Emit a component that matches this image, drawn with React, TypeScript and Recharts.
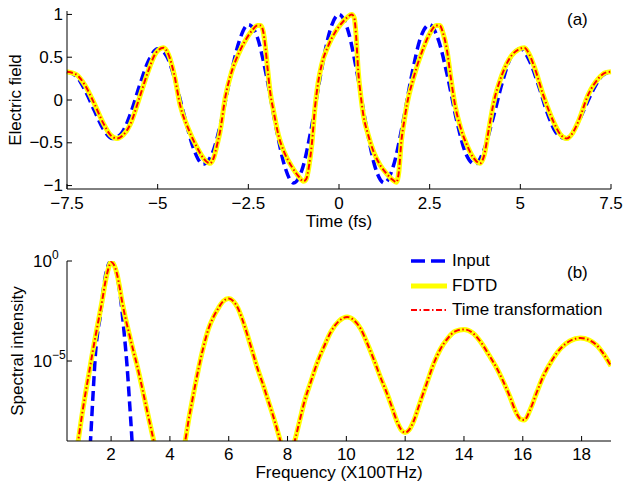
import { LineChart, Line, XAxis, YAxis, Legend, Label } from "recharts";

const FONT = '"Liberation Sans", Arial, Helvetica, sans-serif';

// (a) electric field vs time
const inputTime = [
  -7.5, -7.25, -7, -6.75, -6.5, -6.25, -6, -5.75, -5.5, -5.25, -5, -4.75, -4.5, -4.25, -4, -3.75,
  -3.5, -3.25, -3, -2.75, -2.5, -2.25, -2, -1.75, -1.5, -1.25, -1, -0.75, -0.5, -0.25, 0, 0.25,
  0.5, 0.75, 1, 1.25, 1.5, 1.75, 2, 2.25, 2.5, 2.75, 3, 3.25, 3.5, 3.75, 4, 4.25, 4.5, 4.75, 5,
  5.25, 5.5, 5.75, 6, 6.25, 6.5, 6.75, 7, 7.25, 7.5,
];
const inputField = [
  0.33, 0.28, 0.11, -0.12, -0.34, -0.45, -0.39, -0.16, 0.17, 0.46, 0.6, 0.51, 0.2, -0.21, -0.58, -0.75,
  -0.63, -0.25, 0.26, 0.69, 0.88, 0.73, 0.28, -0.29, -0.77, -0.97, -0.79, -0.3, 0.31, 0.81, 1.0, 0.81,
  0.31, -0.3, -0.79, -0.97, -0.77, -0.29, 0.28, 0.73, 0.88, 0.69, 0.26, -0.25, -0.63, -0.75, -0.58,
  -0.21, 0.2, 0.51, 0.6, 0.46, 0.17, -0.16, -0.39, -0.45, -0.34, -0.12, 0.11, 0.28, 0.33,
];
const outputTime = [
  -7.5, -7.25, -7, -6.75, -6.5, -6.3, -6.12, -5.95, -5.75, -5.5, -5.25, -5.05, -4.84, -4.7, -4.55,
  -4.38, -4.15, -3.92, -3.72, -3.56, -3.45, -3.36, -3.28, -3.14, -2.96, -2.78, -2.59, -2.4, -2.25,
  -2.16, -2.09, -2.03, -1.97, -1.9, -1.8, -1.67, -1.5, -1.3, -1.12, -0.98, -0.9, -0.83, -0.75,
  -0.66, -0.58, -0.48, -0.3, -0.11, 0.08, 0.24, 0.35, 0.42, 0.47, 0.53, 0.6, 0.67, 0.8, 0.95,
  1.12, 1.31, 1.47, 1.58, 1.65, 1.72, 1.8, 1.87, 2.05, 2.32, 2.52, 2.68, 2.78, 2.87, 2.97, 3.08,
  3.2, 3.35, 3.52, 3.7, 3.89, 4.0, 4.12, 4.25, 4.49, 4.76, 4.95, 5.11, 5.25, 5.4, 5.63, 5.91,
  6.1, 6.28, 6.45, 6.6, 6.87, 7.15, 7.35, 7.5,
];
const outputField = [
  0.33, 0.3, 0.17, -0.04, -0.27, -0.41, -0.45, -0.41, -0.28, 0.03, 0.35, 0.55, 0.61, 0.53, 0.31,
  -0.06, -0.34, -0.55, -0.69, -0.74, -0.67, -0.52, -0.37, 0.02, 0.33, 0.53, 0.69, 0.81, 0.87,
  0.87, 0.8, 0.62, 0.37, 0.1, -0.14, -0.41, -0.62, -0.78, -0.89, -0.95, -0.92, -0.78, -0.52,
  -0.08, 0.19, 0.41, 0.63, 0.79, 0.9, 0.97, 1.0, 0.96, 0.76, 0.34, 0.05, -0.17, -0.4, -0.6,
  -0.75, -0.86, -0.93, -0.96, -0.84, -0.48, -0.24, -0.06, 0.25, 0.6, 0.79, 0.87, 0.87, 0.78, 0.6,
  0.27, -0.06, -0.32, -0.52, -0.67, -0.74, -0.65, -0.37, -0.06, 0.29, 0.52, 0.59, 0.61, 0.53,
  0.37, 0.06, -0.25, -0.4, -0.45, -0.38, -0.25, 0.06, 0.25, 0.32, 0.33,
];
const timeTicks = [-7.5, -5, -2.5, 0, 2.5, 5, 7.5];
const fieldTicks = [-1, -0.5, 0, 0.5, 1];

// (b) spectra, read as log10 of intensity
const inputFreq = [1.2, 1.3, 1.4, 1.47, 1.55, 1.64, 1.72, 1.8, 1.9, 2.0, 2.1, 2.2, 2.3, 2.37, 2.45, 2.54, 2.62, 2.71, 2.8];
const inputLogIntensity = [-11.5, -8.97, -6.3, -4.6, -3.5, -2.7, -1.6, -0.8, -0.2, 0, -0.18, -0.72, -1.62, -2.5, -3.7, -5.2, -6.9, -8.97, -11.5];
const outputFreq = [
  0.5, 0.88, 1.0, 1.13, 1.25, 1.36, 1.47, 1.58, 1.7, 1.81, 1.9, 2.0, 2.1, 2.2, 2.3, 2.37, 2.48,
  2.6, 2.74, 2.88, 3.02, 3.16, 3.3, 3.45, 3.6, 4.0, 4.35, 4.52, 4.63, 4.75, 4.86, 4.97, 5.14,
  5.31, 5.48, 5.65, 5.82, 6.0, 6.15, 6.31, 6.47, 6.64, 6.81, 6.98, 7.15, 7.32, 7.5, 7.75, 7.9,
  8.0, 8.1, 8.25, 8.41, 8.57, 8.8, 9.02, 9.25, 9.47, 9.75, 10.03, 10.25, 10.49, 10.72, 10.94,
  11.17, 11.39, 11.56, 11.73, 11.87, 12.0, 12.13, 12.29, 12.5, 12.75, 12.98, 13.2, 13.43, 13.7,
  14.0, 14.3, 14.57, 14.85, 15.13, 15.36, 15.58, 15.75, 15.92, 16.05, 16.26, 16.48, 16.71, 17.0,
  17.28, 17.6, 17.96, 18.25, 18.52, 18.75, 19.0,
];
const outputLogIntensity = [
  -13, -9.0, -7.8, -6.6, -5.6, -4.65, -3.75, -2.9, -1.95, -1.0, -0.42, -0.05, -0.2, -0.65, -1.4,
  -2.0, -2.8, -3.55, -4.4, -5.2, -6.1, -7.05, -8.0, -9.0, -10.1, -12, -10.2, -9.0, -8.0, -7.05,
  -6.2, -5.4, -4.3, -3.4, -2.8, -2.35, -2.0, -1.88, -2.0, -2.35, -2.95, -3.72, -4.55, -5.38, -6.1,
  -6.88, -7.7, -8.97, -9.8, -10.5, -9.8, -8.97, -8.0, -7.05, -6.0, -5.05, -4.25, -3.55, -3.0,
  -2.8, -2.95, -3.4, -4.15, -4.95, -5.85, -6.65, -7.35, -8.05, -8.45, -8.58, -8.45, -8.0, -7.1,
  -6.05, -5.1, -4.4, -3.9, -3.52, -3.42, -3.6, -4.05, -4.7, -5.4, -6.1, -6.85, -7.5, -7.9, -7.95,
  -7.4, -6.55, -5.72, -4.95, -4.38, -4.0, -3.85, -3.95, -4.22, -4.65, -5.25,
];
const freqTicks = [2, 4, 6, 8, 10, 12, 14, 16, 18];
const intensityTicks = [1e-5, 1];

const inputFieldRows = inputTime.map((t, i) => ({ t, v: inputField[i] }));
const outputFieldRows = outputTime.map((t, i) => ({ t, v: outputField[i] }));
const inputSpectrumRows = inputFreq.map((f, i) => ({ f, v: Math.pow(10, inputLogIntensity[i]) }));
const outputSpectrumRows = outputFreq.map((f, i) => ({ f, v: Math.pow(10, outputLogIntensity[i]) }));

const series = [
  { name: "Input", stroke: "#0000ff", width: 3.5, dash: "10 5", legendDash: "14 6" },
  { name: "FDTD", stroke: "#ffff00", width: 5, dash: undefined, legendDash: undefined },
  { name: "Time transformation", stroke: "#ff0000", width: 2, dash: "6 2.5 1.5 2.5", legendDash: "6 2.5 1.5 2.5" },
];

const txt = { fontSize: 17, fontFamily: FONT, fill: "#000" };
const fmtNum = (v: number) => (v < 0 ? "\u2212" + Math.abs(v) : String(v));

const makeXTick = (dy: number) => ({ x, y, payload }: any) => (
  <g>
    <line x1={x} y1={y} x2={x} y2={y - 5} stroke="#000" />
    <text x={x} y={y + dy} textAnchor="middle" dominantBaseline="central" {...txt}>
      {fmtNum(payload.value)}
    </text>
  </g>
);

const FieldTick = ({ x, y, payload }: any) => (
  <g>
    <line x1={x} y1={y} x2={x + 5} y2={y} stroke="#000" />
    <text x={x - 4} y={y} textAnchor="end" dominantBaseline="central" {...txt}>
      {fmtNum(payload.value)}
    </text>
  </g>
);

const PowerTick = ({ x, y, payload }: any) => {
  const exp = Math.round(Math.log10(payload.value));
  return (
    <g>
      <line x1={x} y1={y} x2={x + 5} y2={y} stroke="#000" />
      <text x={x - 34} y={y + 6} {...txt}>
        10
        <tspan dy={-8} fontSize={12}>
          {fmtNum(exp)}
        </tspan>
      </text>
    </g>
  );
};

const xTitle = (value: string, dy: number) => ({ viewBox }: any) => (
  <text x={viewBox.x + viewBox.width / 2} y={viewBox.y + dy} textAnchor="middle" dominantBaseline="central" {...txt}>
    {value}
  </text>
);

const yTitle = (value: string, dx: number) => ({ viewBox }: any) => {
  const cx = viewBox.x + dx;
  const cy = viewBox.y + viewBox.height / 2;
  return (
    <text x={cx} y={cy} transform={`rotate(-90 ${cx} ${cy})`} textAnchor="middle" dominantBaseline="central" {...txt}>
      {value}
    </text>
  );
};

const renderLegend = () => (
  <div style={{ fontFamily: FONT, fontSize: 17, color: "#000" }}>
    {series.map((s) => (
      <div key={s.name} style={{ display: "flex", alignItems: "center", height: 24.5 }}>
        <svg width={36} height={10} style={{ marginRight: 5 }}>
          <line x1={0} y1={5} x2={36} y2={5} stroke={s.stroke} strokeWidth={s.width} strokeDasharray={s.legendDash} />
        </svg>
        <span>{s.name}</span>
      </div>
    ))}
  </div>
);

const panelTag = { position: "absolute" as const, left: 567, fontFamily: FONT, fontSize: 17, lineHeight: "17px" };

export default function App() {
  return (
    <div style={{ position: "absolute", left: 0, top: 0, width: 623, height: 483, background: "#fff" }}>
      <div style={{ position: "absolute", left: 0, top: 0 }}>
        <LineChart width={623} height={240} margin={{ top: 11, right: 12, bottom: 11, left: 7 }}>
          <XAxis
            dataKey="t"
            type="number"
            domain={[-7.5, 7.5]}
            ticks={timeTicks}
            interval={0}
            height={40}
            tickSize={0}
            tickMargin={0}
            tickLine={false}
            stroke="#000"
            tick={makeXTick(14)}
          >
            <Label content={xTitle("Time (fs)", 32)} />
          </XAxis>
          <YAxis
            type="number"
            domain={[-1.04, 1.04]}
            ticks={fieldTicks}
            interval={0}
            width={60}
            tickSize={0}
            tickMargin={0}
            tickLine={false}
            stroke="#000"
            tick={FieldTick}
          >
            <Label content={yTitle("Electric field", 8)} />
          </YAxis>
          <Line data={inputFieldRows} dataKey="v" name={series[0].name} type="monotone" stroke={series[0].stroke} strokeWidth={series[0].width} strokeDasharray={series[0].dash} dot={false} activeDot={false} isAnimationActive={false} />
          <Line data={outputFieldRows} dataKey="v" name={series[1].name} type="monotone" stroke={series[1].stroke} strokeWidth={series[1].width} dot={false} activeDot={false} isAnimationActive={false} />
          <Line data={outputFieldRows} dataKey="v" name={series[2].name} type="monotone" stroke={series[2].stroke} strokeWidth={series[2].width} strokeDasharray={series[2].dash} dot={false} activeDot={false} isAnimationActive={false} />
        </LineChart>
      </div>
      <div style={{ ...panelTag, top: 11 }}>(a)</div>

      <div style={{ position: "absolute", left: 0, top: 240 }}>
        <LineChart width={623} height={243} margin={{ top: 21, right: 12, bottom: 10, left: 7 }}>
          <XAxis
            dataKey="f"
            type="number"
            domain={[0.5, 19]}
            ticks={freqTicks}
            interval={0}
            height={32}
            tickSize={0}
            tickMargin={0}
            tickLine={false}
            allowDataOverflow
            stroke="#000"
            tick={makeXTick(13)}
          >
            <Label content={xTitle("Frequency (X100THz)", 31)} />
          </XAxis>
          <YAxis
            type="number"
            scale="log"
            domain={[1e-9, 1]}
            ticks={intensityTicks}
            interval={0}
            width={60}
            tickSize={0}
            tickMargin={0}
            tickLine={false}
            allowDataOverflow
            stroke="#000"
            tick={PowerTick}
          >
            <Label content={yTitle("Spectral intensity", 10)} />
          </YAxis>
          <Legend
            layout="vertical"
            align="center"
            verticalAlign="middle"
            content={renderLegend}
            wrapperStyle={{ left: 411, top: 9, width: 210 }}
          />
          <Line data={inputSpectrumRows} dataKey="v" name={series[0].name} type="monotone" stroke={series[0].stroke} strokeWidth={series[0].width} strokeDasharray={series[0].dash} dot={false} activeDot={false} isAnimationActive={false} />
          <Line data={outputSpectrumRows} dataKey="v" name={series[1].name} type="monotone" stroke={series[1].stroke} strokeWidth={series[1].width} dot={false} activeDot={false} isAnimationActive={false} />
          <Line data={outputSpectrumRows} dataKey="v" name={series[2].name} type="monotone" stroke={series[2].stroke} strokeWidth={series[2].width} strokeDasharray={series[2].dash} dot={false} activeDot={false} isAnimationActive={false} />
        </LineChart>
      </div>
      <div style={{ ...panelTag, top: 264 }}>(b)</div>
    </div>
  );
}
